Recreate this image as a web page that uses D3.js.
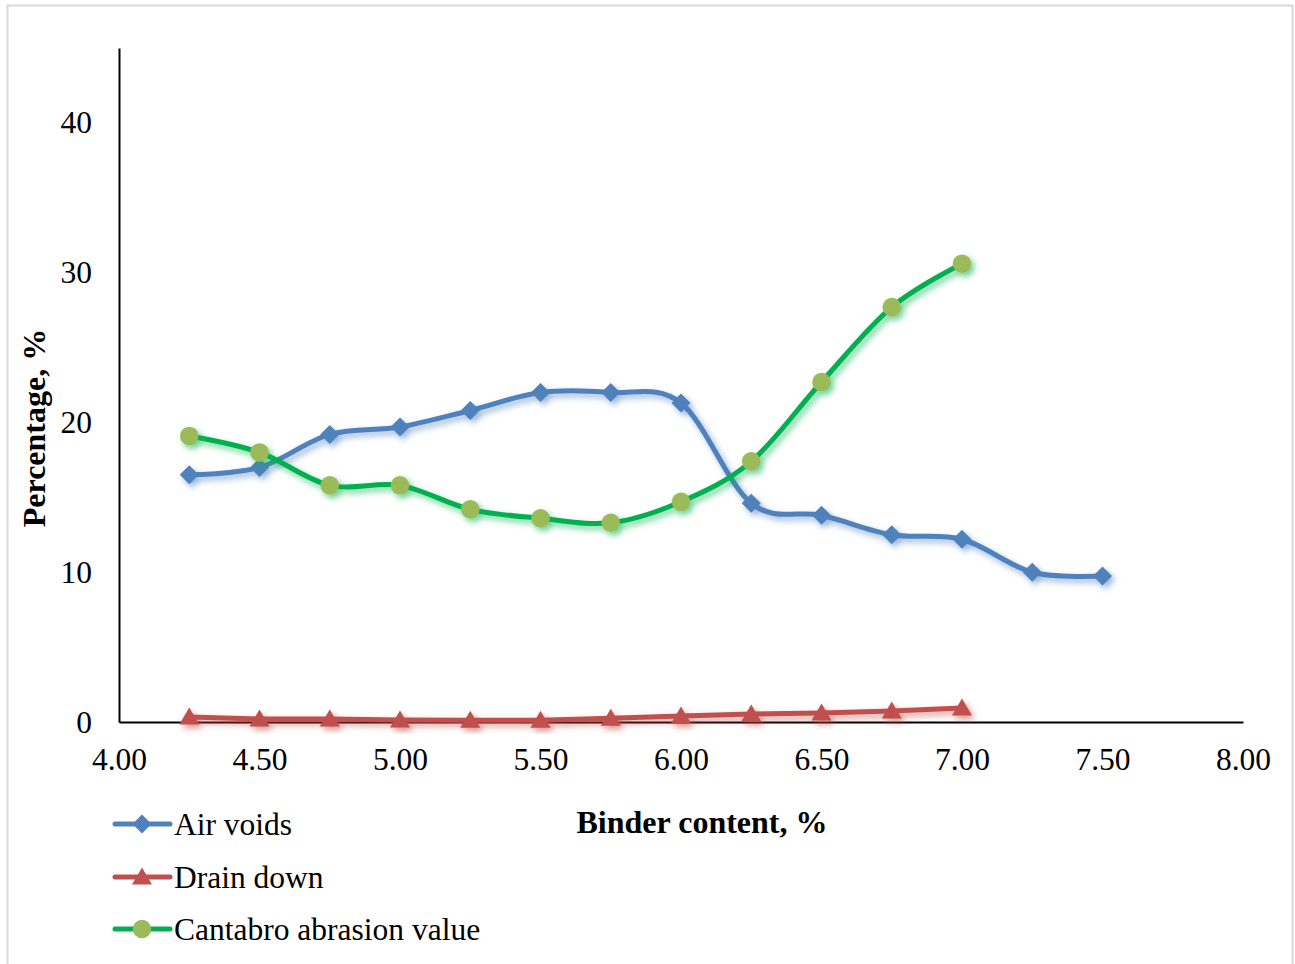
<!DOCTYPE html>
<html>
<head>
<meta charset="utf-8">
<script src="https://cdn.jsdelivr.net/npm/d3@7"></script>
<style>
  html, body { margin: 0; padding: 0; background: #fff; }
  svg { display: block; font-family: "Liberation Serif", "Times New Roman", serif; }
</style>
</head>
<body>
<svg id="chart" width="1295" height="964"></svg>
<script>
// Binder content (%) at each test point
const binderContent = [4.25, 4.5, 4.75, 5.0, 5.25, 5.5, 5.75, 6.0, 6.25, 6.5, 6.75, 7.0, 7.25, 7.5];
// Measured properties (%)
const airVoids = [16.5, 17.0, 19.2, 19.7, 20.8, 22.0, 22.0, 21.3, 14.6, 13.8, 12.5, 12.2, 10.0, 9.75];
const drainDown = [0.33, 0.2, 0.2, 0.13, 0.12, 0.12, 0.25, 0.4, 0.53, 0.6, 0.73, 0.93];
const cantabro = [19.1, 18.0, 15.8, 15.8, 14.2, 13.6, 13.3, 14.7, 17.4, 22.7, 27.7, 30.6];

const xTicks = [4.0, 4.5, 5.0, 5.5, 6.0, 6.5, 7.0, 7.5, 8.0];
const yTicks = [0, 10, 20, 30, 40];

const seriesNames = ["Air voids", "Drain down", "Cantabro abrasion value"];

const series = [
  { name: seriesNames[0], values: airVoids, line: "#4F81BD", fill: "#4F81BD", marker: "diamond", smooth: true },
  { name: seriesNames[1], values: drainDown, line: "#C0504D", fill: "#C0504D", marker: "triangle", smooth: false },
  { name: seriesNames[2], values: cantabro, line: "#00B050", fill: "#9BBB59", marker: "circle", smooth: true }
];

const svg = d3.select("#chart");

// outer frame
svg.append("rect")
  .attr("x", 7.5).attr("y", 5.5).attr("width", 1285).attr("height", 970)
  .attr("fill", "#fff").attr("stroke", "#D9D9D9").attr("stroke-width", 2);

const x = d3.scaleLinear().domain([4, 8]).range([119, 1243]);
const y = d3.scaleLinear().domain([0, 45]).range([722, 48]);

// soft shadow per series colour
const defs = svg.append("defs");
series.forEach((s, i) => {
  const f = defs.append("filter").attr("id", "glow" + i)
    .attr("x", "-20%").attr("y", "-20%").attr("width", "140%").attr("height", "140%");
  f.append("feDropShadow").attr("dx", 3).attr("dy", 3.5).attr("stdDeviation", 3)
    .attr("flood-color", s.line).attr("flood-opacity", 0.6);
});

// axes
const xAxis = d3.axisBottom(x).tickValues(xTicks).tickFormat(d3.format(".2f")).tickSize(0).tickPadding(26);
const yAxis = d3.axisLeft(y).tickValues(yTicks).tickFormat(d3.format("d")).tickSize(0).tickPadding(27);

const gx = svg.append("g").attr("transform", `translate(0,${y(0)})`).call(xAxis);
gx.select(".domain").attr("stroke", "#000").attr("stroke-width", 2);
gx.selectAll("text").attr("font-size", 31.5).attr("font-family", "Liberation Serif").attr("fill", "#000");

const gy = svg.append("g").attr("transform", `translate(${x(4)},0)`).call(yAxis);
gy.select(".domain").attr("stroke", "#000").attr("stroke-width", 2);
gy.selectAll("text").attr("font-size", 31.5).attr("font-family", "Liberation Serif").attr("fill", "#000");

// axis titles
svg.append("text").attr("x", 702).attr("y", 833).attr("text-anchor", "middle")
  .attr("font-size", 32).attr("font-weight", "bold").text("Binder content, %");
svg.append("text").attr("transform", "translate(45,428) rotate(-90)").attr("text-anchor", "middle")
  .attr("font-size", 32).attr("font-weight", "bold").text("Percentage, %");

// marker shapes
function markerPath(kind) {
  if (kind === "diamond") return "M0,-9.5L9.5,0L0,9.5L-9.5,0Z";
  if (kind === "triangle") return "M0,-9.5L10,7.5L-10,7.5Z";
  return d3.symbol(d3.symbolCircle, 270)();
}

// series
series.forEach((s, i) => {
  const pts = s.values.map((v, j) => [binderContent[j], v]);
  const line = d3.line()
    .x(d => x(d[0])).y(d => y(d[1]))
    .curve(s.smooth ? d3.curveCatmullRom.alpha(0) : d3.curveLinear);
  const g = svg.append("g").attr("filter", `url(#glow${i})`);
  g.append("path").attr("d", line(pts)).attr("fill", "none")
    .attr("stroke", s.line).attr("stroke-width", 5).attr("stroke-linejoin", "round");
  g.selectAll("path.m").data(pts).join("path").attr("class", "m")
    .attr("transform", d => `translate(${x(d[0])},${y(d[1])})`)
    .attr("d", markerPath(s.marker)).attr("fill", s.fill);
});

// legend
const legendY = [824, 877, 929];
series.forEach((s, i) => {
  const g = svg.append("g").attr("transform", `translate(0,${legendY[i]})`);
  g.append("line").attr("x1", 115).attr("x2", 170).attr("y1", 0).attr("y2", 0)
    .attr("stroke", s.line).attr("stroke-width", 5).attr("stroke-linecap", "round");
  g.append("path").attr("transform", "translate(142,0)").attr("d", markerPath(s.marker)).attr("fill", s.fill);
  g.append("text").attr("x", 174).attr("y", 11).attr("font-size", 31.5).text(s.name);
});
</script>
</body>
</html>
